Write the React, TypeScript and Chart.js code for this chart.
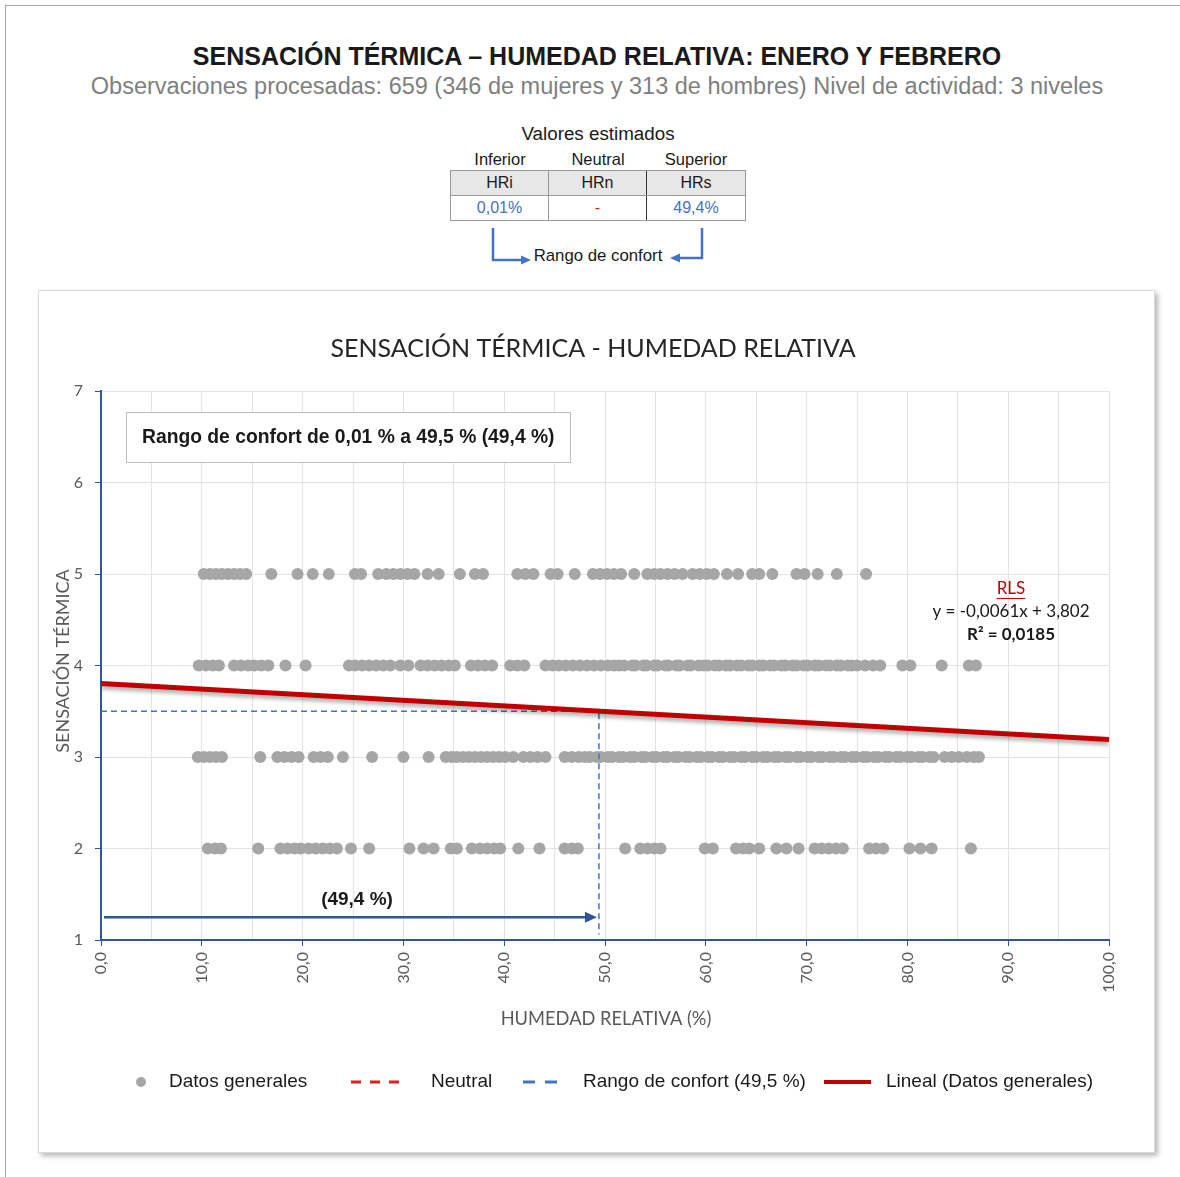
import React, { useEffect, useRef } from "react";
import { Chart, registerables } from "chart.js";

Chart.register(...registerables);

// ---- Data (humedad relativa % por nivel de sensación térmica) ----
const sensationLevels = [5, 4, 3, 2];

const humedadSens5 = [
  10.2, 10.8, 11.4, 12.0, 12.6, 13.2, 13.8, 14.4, 16.9, 19.5, 21.0, 22.6, 25.2, 25.8,
  27.5, 28.3, 29.0, 29.7, 30.4, 31.1, 32.4, 33.5, 35.6, 37.1, 37.9, 41.3, 42.1, 42.9,
  44.6, 45.3, 47.0, 48.8, 49.5, 50.2, 50.9, 51.6, 52.9, 54.2, 54.9, 55.5, 56.2, 56.9,
  57.7, 58.7, 59.4, 60.1, 60.8, 62.1, 63.2, 64.6, 65.3, 66.6, 69.0, 69.8, 71.1, 73.0, 75.9,
];

const humedadSens4 = [
  9.7, 10.4, 11.1, 11.7, 13.2, 13.9, 14.6, 15.2, 15.9, 16.6, 18.3, 20.3, 24.6, 25.2,
  25.9, 26.6, 27.3, 28.0, 28.7, 29.7, 30.5, 31.7, 32.4, 33.1, 33.8, 34.5, 35.1, 36.7,
  37.4, 38.1, 38.8, 40.6, 41.3, 42.0, 44.1, 44.8, 45.4, 46.1, 46.8, 47.5, 48.2, 48.9,
  49.6, 50.3, 50.9, 51.4, 51.9, 52.7, 53.0, 53.8, 54.1, 54.9, 55.2, 56.0, 56.3, 57.1,
  57.4, 58.2, 58.5, 59.3, 59.8, 60.2, 60.9, 61.3, 62.0, 62.4, 63.1, 63.5, 64.2, 64.6,
  65.3, 65.7, 66.4, 66.8, 67.5, 67.9, 68.6, 69.0, 69.7, 70.1, 70.8, 71.2, 71.9, 72.3,
  73.0, 73.4, 74.1, 74.5, 75.0, 75.8, 76.6, 77.3, 79.5, 80.3, 83.4, 86.1, 86.8,
];

const humedadSens3 = [
  9.6, 10.2, 10.8, 11.4, 12.0, 15.8, 17.5, 18.2, 18.9, 19.6, 21.1, 21.8, 22.5, 24.0,
  26.9, 30.0, 32.5, 34.2, 34.8, 35.3, 35.9, 36.5, 37.1, 37.7, 38.3, 38.9, 39.5, 40.1,
  40.9, 41.9, 42.6, 43.3, 44.1, 46.0, 46.7, 47.4, 48.0, 48.5, 49.2, 49.6, 50.3, 50.7,
  51.4, 51.8, 52.5, 52.9, 53.6, 54.0, 54.7, 55.1, 55.8, 56.2, 56.9, 57.3, 58.0, 58.4,
  59.1, 59.5, 60.2, 60.6, 61.3, 61.7, 62.4, 62.8, 63.5, 63.9, 64.6, 65.0, 65.7, 66.1,
  66.8, 67.2, 67.9, 68.3, 69.0, 69.4, 70.1, 70.5, 71.2, 71.6, 72.3, 72.7, 73.4, 73.8,
  74.5, 74.9, 75.6, 76.0, 76.7, 77.1, 77.8, 78.2, 78.9, 79.3, 80.0, 80.4, 81.1, 81.5,
  82.2, 82.6, 83.7, 84.4, 85.1, 85.9, 86.6, 87.1,
];

const humedadSens2 = [
  10.6, 11.3, 11.9, 15.6, 17.8, 18.5, 19.2, 19.8, 20.6, 21.3, 22.0, 22.7, 23.4, 24.8,
  26.6, 30.6, 32.0, 33.0, 34.7, 35.3, 36.8, 37.6, 38.3, 39.0, 39.6, 41.4, 43.5, 46.0,
  46.7, 47.3, 52.0, 53.5, 54.2, 54.9, 55.5, 59.9, 60.7, 63.0, 63.7, 64.3, 65.3, 67.0,
  68.0, 69.2, 70.8, 71.5, 72.2, 72.9, 73.6, 76.2, 76.9, 77.6, 80.2, 81.3, 82.4, 86.3,
];

const trendSlope = -0.0061;
const trendIntercept = 3.802;
const trendR2 = "0,0185";
const comfortLower = "0,01%";
const comfortUpper = 49.4;
const comfortSensation = 3.5;
const comfortLineBottom = 1.06;
const arrowSensation = 1.25;
const legendLabels = [
  "Datos generales",
  "Neutral",
  "Rango de confort (49,5 %)",
  "Lineal (Datos generales)",
];

const CALIBRI = 'Lato, "Open Sans", sans-serif';
const ARIAL = '"Liberation Sans", Arial, sans-serif';

const fmtX = (v: number) => v.toFixed(1).replace(".", ",");

export default function App() {
  const canvasRef = useRef<HTMLCanvasElement | null>(null);

  useEffect(() => {
    if (!canvasRef.current) return;
    const rows = [humedadSens5, humedadSens4, humedadSens3, humedadSens2];
    const points: { x: number; y: number }[] = [];
    rows.forEach((row, i) => row.forEach((x) => points.push({ x, y: sensationLevels[i] })));

    const trend = [
      { x: 0, y: trendIntercept },
      { x: 100, y: trendIntercept + trendSlope * 100 },
    ];
    const comfortPath = [
      { x: 0, y: comfortSensation },
      { x: comfortUpper, y: comfortSensation },
      { x: comfortUpper, y: comfortLineBottom },
    ];

    const shadowPlugin = {
      id: "trendShadow",
      beforeDatasetDraw(chart: any, args: any) {
        if (args.index === 3) {
          chart.ctx.save();
          chart.ctx.shadowColor = "rgba(0,0,0,0.35)";
          chart.ctx.shadowBlur = 4;
          chart.ctx.shadowOffsetY = 3;
        }
      },
      afterDatasetDraw(chart: any, args: any) {
        if (args.index === 3) chart.ctx.restore();
      },
    };

    const overlayPlugin = {
      id: "overlay",
      afterDraw(chart: any) {
        const { ctx, chartArea, scales } = chart;
        const xs = scales.x;
        const ys = scales.y;
        ctx.save();

        // Chart title
        ctx.fillStyle = "#262626";
        ctx.font = `25px ${CALIBRI}`;
        ctx.textAlign = "center";
        ctx.textBaseline = "middle";
        ctx.fillText("SENSACIÓN TÉRMICA - HUMEDAD RELATIVA", 554, 58);

        // Axis titles
        ctx.fillStyle = "#595959";
        ctx.font = `18.3px ${CALIBRI}`;
        ctx.fillText("HUMEDAD RELATIVA (%)", 567, 728);
        ctx.save();
        ctx.translate(24, 370);
        ctx.rotate(-Math.PI / 2);
        ctx.font = `18px ${CALIBRI}`;
        ctx.fillText("SENSACIÓN TÉRMICA", 0, 0);
        ctx.restore();

        // Annotation box
        const bx = chartArea.left + 25;
        const by = chartArea.top + 21;
        ctx.fillStyle = "#ffffff";
        ctx.fillRect(bx, by, 444, 50);
        ctx.strokeStyle = "#bfbfbf";
        ctx.lineWidth = 1;
        ctx.strokeRect(bx + 0.5, by + 0.5, 444, 50);
        ctx.fillStyle = "#1a1a1a";
        ctx.font = `bold 19.3px ${ARIAL}`;
        ctx.textAlign = "left";
        ctx.fillText("Rango de confort de 0,01 % a 49,5 % (49,4 %)", bx + 16, by + 26);

        // Arrow
        const ay = ys.getPixelForValue(arrowSensation);
        const ax0 = xs.getPixelForValue(0.3);
        const ax1 = xs.getPixelForValue(comfortUpper) - 2;
        ctx.strokeStyle = "#2f5597";
        ctx.fillStyle = "#2f5597";
        ctx.lineWidth = 2.5;
        ctx.beginPath();
        ctx.moveTo(ax0, ay);
        ctx.lineTo(ax1 - 10, ay);
        ctx.stroke();
        ctx.beginPath();
        ctx.moveTo(ax1, ay);
        ctx.lineTo(ax1 - 12, ay - 5.5);
        ctx.lineTo(ax1 - 12, ay + 5.5);
        ctx.closePath();
        ctx.fill();
        ctx.fillStyle = "#1a1a1a";
        ctx.font = `bold 19px ${ARIAL}`;
        ctx.textAlign = "center";
        ctx.fillText("(49,4 %)", xs.getPixelForValue(25.4), ay - 17);

        // RLS equation
        const rx = chartArea.left + 910;
        ctx.font = `17px ${CALIBRI}`;
        ctx.fillStyle = "#c00000";
        ctx.fillText("RLS", rx, 298);
        const rw = ctx.measureText("RLS").width;
        ctx.strokeStyle = "#c00000";
        ctx.lineWidth = 1;
        ctx.beginPath();
        ctx.moveTo(rx - rw / 2, 307.5);
        ctx.lineTo(rx + rw / 2, 307.5);
        ctx.stroke();
        ctx.fillStyle = "#1a1a1a";
        ctx.fillText("y = -0,0061x + 3,802", rx, 321);
        ctx.font = `bold 17px ${CALIBRI}`;
        ctx.fillText(`R² = ${trendR2}`, rx, 344);

        // Legend
        const ly = 791;
        ctx.font = `19px ${ARIAL}`;
        ctx.textAlign = "left";
        ctx.fillStyle = "#a6a6a6";
        ctx.beginPath();
        ctx.arc(102, ly, 5, 0, Math.PI * 2);
        ctx.fill();
        ctx.fillStyle = "#1a1a1a";
        ctx.fillText(legendLabels[0], 130, ly);

        ctx.lineWidth = 3;
        ctx.strokeStyle = "#e0201b";
        ctx.setLineDash([10, 9]);
        ctx.beginPath();
        ctx.moveTo(312, ly);
        ctx.lineTo(362, ly);
        ctx.stroke();
        ctx.fillText(legendLabels[1], 392, ly);

        ctx.strokeStyle = "#4472c4";
        ctx.setLineDash([12, 10]);
        ctx.beginPath();
        ctx.moveTo(484, ly);
        ctx.lineTo(518, ly);
        ctx.stroke();
        ctx.fillText(legendLabels[2], 544, ly);

        ctx.setLineDash([]);
        ctx.lineWidth = 4;
        ctx.strokeStyle = "#c00000";
        ctx.beginPath();
        ctx.moveTo(785, ly);
        ctx.lineTo(832, ly);
        ctx.stroke();
        ctx.fillText(legendLabels[3], 847, ly);

        ctx.restore();
      },
    };

    const chart = new Chart(canvasRef.current, {
      type: "scatter",
      data: {
        datasets: [
          {
            label: legendLabels[0],
            data: points,
            backgroundColor: "#a6a6a6",
            borderWidth: 0,
            pointRadius: 6,
            pointHoverRadius: 6,
            order: 3,
          },
          {
            label: legendLabels[1],
            data: [],
            borderColor: "#e0201b",
            borderDash: [8, 6],
            showLine: true,
            pointRadius: 0,
            order: 2,
          },
          {
            label: legendLabels[2],
            data: comfortPath,
            borderColor: "#4472c4",
            borderWidth: 1.5,
            borderDash: [6, 4],
            showLine: true,
            pointRadius: 0,
            order: 1,
          },
          {
            label: legendLabels[3],
            data: trend,
            borderColor: "#c00000",
            borderWidth: 5,
            showLine: true,
            pointRadius: 0,
            order: 0,
          },
        ],
      } as any,
      options: {
        responsive: false,
        animation: false,
        layout: { padding: { top: 100, right: 45, left: 0, bottom: 0 } },
        plugins: {
          legend: { display: false },
          title: { display: false },
          tooltip: { enabled: false },
        },
        scales: {
          x: {
            type: "linear",
            min: 0,
            max: 100,
            afterFit: (s: any) => {
              s.height = 212;
            },
            ticks: {
              stepSize: 5,
              autoSkip: false,
              minRotation: 90,
              maxRotation: 90,
              padding: 6,
              color: "#595959",
              font: { family: CALIBRI, size: 16 },
              callback: (v: any) => (Number(v) % 10 === 0 ? fmtX(Number(v)) : ""),
            },
            grid: {
              color: "#e3e3e3",
              tickLength: 6,
              tickColor: (c: any) => (c.tick && c.tick.value % 10 === 0 ? "#2f5597" : "rgba(0,0,0,0)"),
            },
            border: { color: "#2f5597", width: 2 },
          },
          y: {
            type: "linear",
            min: 1,
            max: 7,
            afterFit: (s: any) => {
              s.width = 62;
            },
            ticks: {
              stepSize: 1,
              padding: 12,
              color: "#595959",
              font: { family: CALIBRI, size: 16 },
            },
            grid: {
              color: "#e3e3e3",
              tickLength: 6,
              tickColor: "#2f5597",
            },
            border: { color: "#2f5597", width: 2 },
          },
        },
      } as any,
      plugins: [shadowPlugin, overlayPlugin],
    });
    return () => chart.destroy();
  }, []);

  const abs = (o: React.CSSProperties): React.CSSProperties => ({ position: "absolute", ...o });
  const cell: React.CSSProperties = {
    width: 98,
    height: 24,
    textAlign: "center",
    lineHeight: "24px",
    fontSize: 16,
    boxSizing: "border-box",
  };

  return (
    <div
      style={abs({
        left: 0,
        top: 0,
        width: 1180,
        height: 1177,
        overflow: "hidden",
        background: "#fff",
        fontFamily: ARIAL,
        color: "#1a1a1a",
      })}
    >
      <div
        style={abs({
          left: 5,
          top: 5,
          width: 1200,
          height: 1200,
          borderTop: "1px solid #a6a6a6",
          borderLeft: "1px solid #a6a6a6",
        })}
      />
      <div style={abs({ left: 0, top: 42, width: 1194, textAlign: "center", fontSize: 25, fontWeight: "bold", lineHeight: "28px", whiteSpace: "nowrap" })}>
        SENSACIÓN TÉRMICA – HUMEDAD RELATIVA: ENERO Y FEBRERO
      </div>
      <div style={abs({ left: 0, top: 72, width: 1194, textAlign: "center", fontSize: 23.5, color: "#7f7f7f", lineHeight: "28px", whiteSpace: "nowrap" })}>
        Observaciones procesadas: 659 (346 de mujeres y 313 de hombres) Nivel de actividad: 3 niveles
      </div>
      <div style={abs({ left: 448, top: 122, width: 300, textAlign: "center", fontSize: 18.8, lineHeight: "24px" })}>
        Valores estimados
      </div>
      {["Inferior", "Neutral", "Superior"].map((t, i) => (
        <div key={t} style={abs({ left: 451 + i * 98, top: 148, width: 98, textAlign: "center", fontSize: 16.5, lineHeight: "22px" })}>
          {t}
        </div>
      ))}
      <div style={abs({ left: 450, top: 170, width: 296, border: "1px solid #9a9a9a", boxSizing: "border-box" })}>
        <div style={{ display: "flex", background: "#e7e7e7", borderBottom: "1px solid #9a9a9a" }}>
          <div style={{ ...cell, borderRight: "1px solid #9a9a9a" }}>HRi</div>
          <div style={{ ...cell, borderRight: "1px solid #333" }}>HRn</div>
          <div style={cell}>HRs</div>
        </div>
        <div style={{ display: "flex" }}>
          <div style={{ ...cell, color: "#4472c4", borderRight: "1px solid #9a9a9a" }}>{comfortLower}</div>
          <div style={{ ...cell, color: "#e0201b", borderRight: "1px solid #333" }}>-</div>
          <div style={{ ...cell, color: "#4472c4" }}>{`${comfortUpper.toFixed(1).replace(".", ",")}%`}</div>
        </div>
      </div>
      <svg style={abs({ left: 0, top: 0 })} width={1180} height={300}>
        <polyline points="493,228 493,260 522,260" fill="none" stroke="#4472c4" strokeWidth={2.5} />
        <polygon points="531,260 521,255.5 521,264.5" fill="#4472c4" />
        <polyline points="702,228 702,258 680,258" fill="none" stroke="#4472c4" strokeWidth={2.5} />
        <polygon points="670,258 680,253.5 680,262.5" fill="#4472c4" />
      </svg>
      <div style={abs({ left: 448, top: 245, width: 300, textAlign: "center", fontSize: 16.8, lineHeight: "22px" })}>
        Rango de confort
      </div>
      <div
        style={abs({
          left: 38,
          top: 290,
          width: 1117,
          height: 863,
          background: "#fff",
          border: "1px solid #d9d9d9",
          boxSizing: "border-box",
          boxShadow: "3px 3px 5px rgba(0,0,0,0.28)",
        })}
      >
        <canvas ref={canvasRef} width={1115} height={861} style={{ display: "block" }} />
      </div>
    </div>
  );
}
